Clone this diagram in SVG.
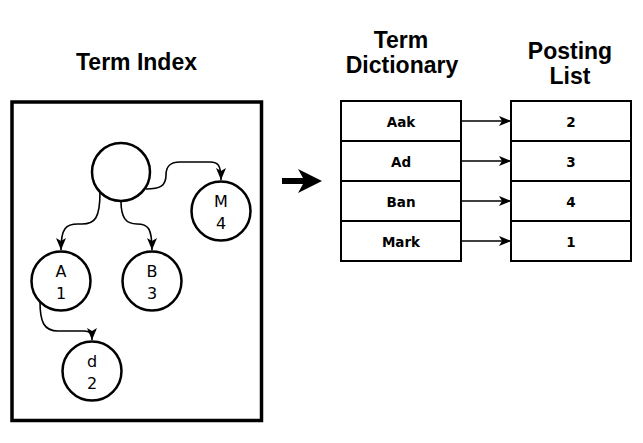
<svg xmlns="http://www.w3.org/2000/svg" width="643" height="443" viewBox="0 0 643 443">
<style>
.bg{fill:#fff}
.title{font-family:"Liberation Sans",Arial,sans-serif;font-weight:bold;font-size:23px;fill:#000;text-anchor:middle}
.node{fill:#fff;stroke:#000;stroke-width:2.5}
.nlabel{font-family:"DejaVu Sans",Verdana,sans-serif;font-size:16px;fill:#000;text-anchor:middle}
.cell{fill:#fff;stroke:#000;stroke-width:2}
.clabel{font-family:"DejaVu Sans",sans-serif;font-weight:bold;font-size:13.5px;fill:#000;text-anchor:middle}
.edge{fill:none;stroke:#000;stroke-width:1.6;marker-end:url(#arr)}
.frame{fill:none;stroke:#000;stroke-width:3.5}
</style>
<defs>
<marker id="arr" viewBox="0 0 12 10" refX="12" refY="5" markerWidth="12" markerHeight="10" markerUnits="userSpaceOnUse" orient="auto">
<path d="M0,0 L12,5 L0,10 L3,5 Z" fill="#000"/>
</marker>
</defs>
<rect class="bg" x="0" y="0" width="643" height="443"/>

<g id="titles">
<text class="title" x="136.5" y="70">Term Index</text>
<text class="title" x="401" y="48">Term</text>
<text class="title" x="402" y="73">Dictionary</text>
<text class="title" x="570" y="59">Posting</text>
<text class="title" x="570" y="84">List</text>
</g>

<g id="term-index-frame">
<rect class="frame" x="12" y="102" width="249.5" height="318.5"/>
</g>

<g id="connectors">
<path class="edge" d="M100,192 C100,218 95,224 82,224 L78,224 C66,224 61,228 61,250"/>
<path class="edge" d="M121,201 C121,218 126,224 137,224 C148,224 152,228 152,250"/>
<path class="edge" d="M146,189 C160,189 166,186 166,175 C166,166 170,162 180,162 L210,162 C218,162 221,165 221,180"/>
<path class="edge" d="M40,302 C40,322 44,331 58,331 L84,331 C90,331 92,333 92,340"/>
<path class="edge" d="M461,121 L511,121"/>
<path class="edge" d="M461,161 L511,161"/>
<path class="edge" d="M461,201 L511,201"/>
<path class="edge" d="M461,241 L511,241"/>
<path id="big-arrow" d="M282,178 L303,178 L298,169 L322,181 L298,193 L303,184 L282,184 Z" fill="#000"/>
</g>

<g id="node-root"><circle class="node" cx="121" cy="172" r="29"/></g>
<g id="node-M4"><circle class="node" cx="221" cy="211" r="29.5"/><text class="nlabel" x="221" y="207">M</text><text class="nlabel" x="221" y="228.5">4</text></g>
<g id="node-A1"><circle class="node" cx="61" cy="281" r="29.5"/><text class="nlabel" x="61" y="277">A</text><text class="nlabel" x="61" y="298.5">1</text></g>
<g id="node-B3"><circle class="node" cx="152" cy="281" r="29.5"/><text class="nlabel" x="152" y="277">B</text><text class="nlabel" x="152" y="298.5">3</text></g>
<g id="node-d2"><circle class="node" cx="92" cy="371" r="29.5"/><text class="nlabel" x="92" y="367">d</text><text class="nlabel" x="92" y="388.5">2</text></g>

<g id="dict-aak"><rect class="cell" x="341" y="101" width="120" height="40"/><text class="clabel" x="401" y="127">Aak</text></g>
<g id="dict-ad"><rect class="cell" x="341" y="141" width="120" height="40"/><text class="clabel" x="401" y="167">Ad</text></g>
<g id="dict-ban"><rect class="cell" x="341" y="181" width="120" height="40"/><text class="clabel" x="401" y="207">Ban</text></g>
<g id="dict-mark"><rect class="cell" x="341" y="221" width="120" height="40"/><text class="clabel" x="401" y="247">Mark</text></g>

<g id="post-2"><rect class="cell" x="511" y="101" width="120" height="40"/><text class="clabel" x="571" y="127">2</text></g>
<g id="post-3"><rect class="cell" x="511" y="141" width="120" height="40"/><text class="clabel" x="571" y="167">3</text></g>
<g id="post-4"><rect class="cell" x="511" y="181" width="120" height="40"/><text class="clabel" x="571" y="207">4</text></g>
<g id="post-1"><rect class="cell" x="511" y="221" width="120" height="40"/><text class="clabel" x="571" y="247">1</text></g>
</svg>
